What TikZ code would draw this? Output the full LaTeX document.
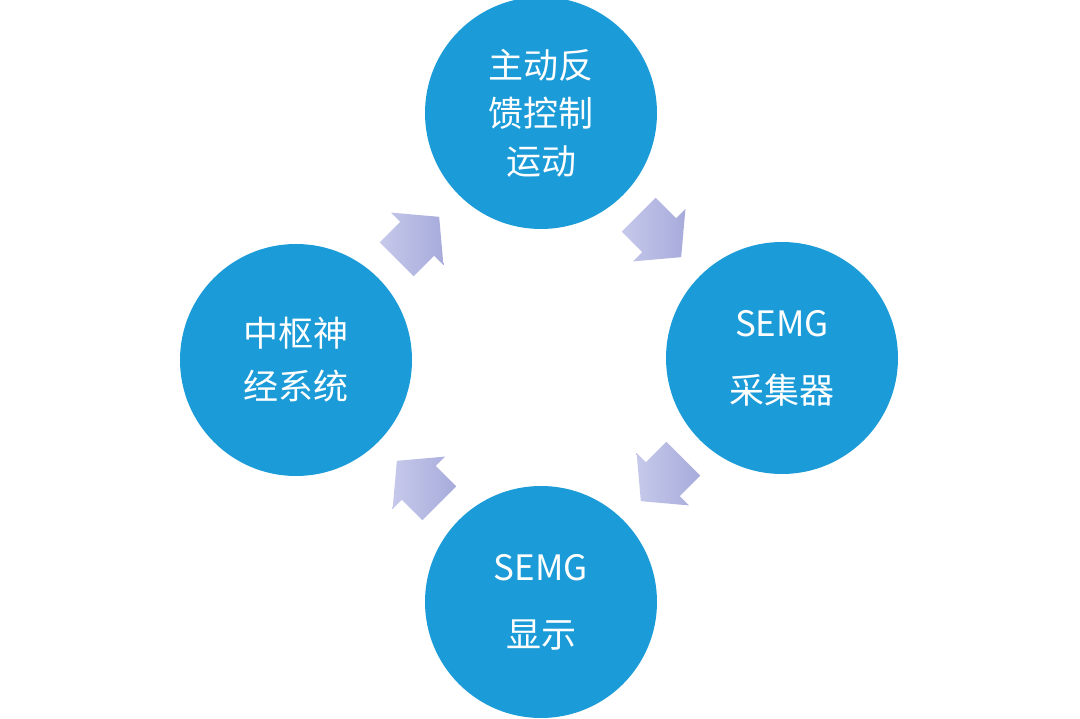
\documentclass[tikz,border=0pt]{standalone}
\usepackage{fontspec}
\newfontfamily\cjk{Noto Sans CJK SC}
\definecolor{cb}{HTML}{1B9BD7}
\definecolor{al}{HTML}{C6C9EA}
\definecolor{ad}{HTML}{A7ABDB}
\tikzset{
 circ/.style={circle,fill=cb,minimum size=232pt,inner sep=0pt,text=white,align=center,font=\cjk\fontsize{35}{48}\selectfont},
 wide/.style={font=\cjk\fontsize{35}{67}\selectfont},
 blkarr/.pic={\path[left color=al,right color=ad,draw=none]
   (-23,-24)--(6,-24)--(6,-37)--(37,0)--(6,37)--(6,24)--(-23,24)--cycle;}
}
\begin{document}
\begin{tikzpicture}[x=1pt,y=-1pt]
\useasboundingbox (0,0) rectangle (1080,719);
\node[circ] (top) at (541,113) {主动反\\馈控制\\运动};
\node[circ,wide] (right) at (782,358) {SEMG\\采集器};
\node[circ,wide] (bot) at (541,602) {SEMG\\显示};
\node[circ,font=\cjk\fontsize{35}{53}\selectfont] (left) at (296,360) {中枢神\\经系统};
\pic[rotate=45] (a1) at (413,243) {blkarr};
\pic[rotate=-45] (a2) at (655,231) {blkarr};
\pic[rotate=-135] (a3) at (667,475) {blkarr};
\pic[rotate=135] (a4) at (423,487) {blkarr};
\end{tikzpicture}
\end{document}
